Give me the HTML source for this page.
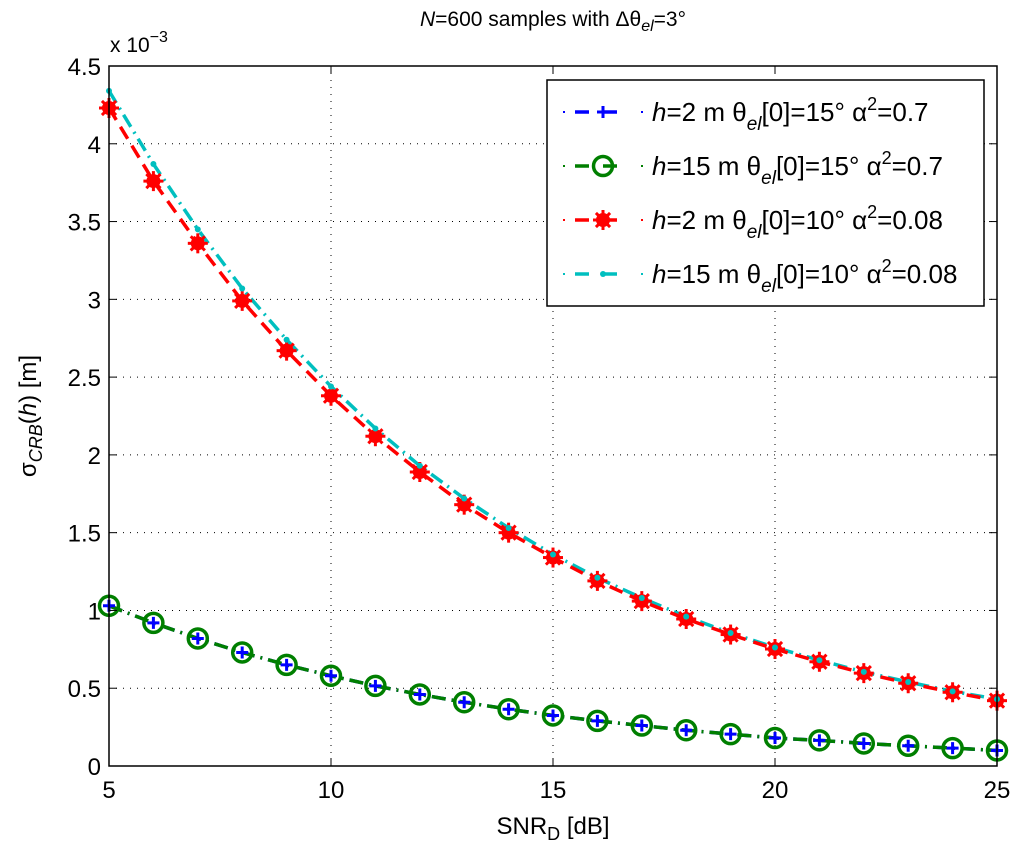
<!DOCTYPE html>
<html><head><meta charset="utf-8"><style>
body{margin:0;background:#fff}
svg text{font-family:"Liberation Sans",sans-serif;fill:#000}
</style></head><body>
<svg id="chart" width="1024" height="858" xmlns="http://www.w3.org/2000/svg">
<text x="553" y="26" font-size="21" text-anchor="middle"><tspan font-style="italic">N</tspan>=600 samples with Δθ<tspan font-style="italic" font-size="16" dy="5">el</tspan><tspan dy="-5">=3°</tspan></text>
<text x="110" y="52" font-size="21">x 10<tspan font-size="16" dy="-10">−3</tspan></text>
<text transform="translate(36,416) rotate(-90)" font-size="24" text-anchor="middle">σ<tspan font-style="italic" font-size="18" dy="6">CRB</tspan><tspan dy="-6">(</tspan><tspan font-style="italic">h</tspan>) [m]</text>
<text x="553" y="834" font-size="24" text-anchor="middle">SNR<tspan font-size="18" dy="6">D</tspan><tspan dy="-6"> [dB]</tspan></text>
<g id="grid"></g><g id="lines"></g><g id="marks"></g><g id="axes"></g><g id="legend"></g>
</svg>
<script>
const snr=[5,6,7,8,9,10,11,12,13,14,15,16,17,18,19,20,21,22,23,24,25];
const blueVals=[1.03,0.92,0.82,0.73,0.65,0.58,0.515,0.46,0.41,0.365,0.325,0.29,0.26,0.23,0.205,0.18,0.165,0.145,0.13,0.115,0.10];
const greenVals=[1.03,0.92,0.82,0.73,0.65,0.58,0.515,0.46,0.41,0.365,0.325,0.29,0.26,0.23,0.205,0.18,0.165,0.145,0.13,0.115,0.10];
const redVals=[4.23,3.76,3.36,2.99,2.67,2.38,2.12,1.89,1.68,1.50,1.34,1.19,1.06,0.945,0.845,0.752,0.67,0.597,0.532,0.474,0.42];
const cyanVals=[4.34,3.87,3.45,3.07,2.74,2.44,2.17,1.93,1.72,1.53,1.36,1.21,1.08,0.96,0.855,0.762,0.68,0.605,0.54,0.48,0.43];
const xTicks=[5,10,15,20,25];
const yTicks=[0,0.5,1,1.5,2,2.5,3,3.5,4,4.5];
const yTickLabels=["0","0.5","1","1.5","2","2.5","3","3.5","4","4.5"];

const L=109,R=997,T=66,B=766;
const xs=v=>L+(v-5)/20*(R-L);
const ys=v=>B-v/4.5*(B-T);
const NS="http://www.w3.org/2000/svg";
function mk(tag,parent,attrs){const e=document.createElementNS(NS,tag);for(const k in attrs)e.setAttribute(k,attrs[k]);parent.appendChild(e);return e;}
const grid=document.getElementById('grid'),axes=document.getElementById('axes'),linesG=document.getElementById('lines'),marksG=document.getElementById('marks'),leg=document.getElementById('legend');
xTicks.forEach((t,i)=>{
  const x=xs(t);
  if(i>0&&i<xTicks.length-1){const g=mk('line',grid,{x1:x,x2:x,y1:T,y2:B,stroke:'#000','stroke-width':1,'stroke-dasharray':'1 6'});
  
  }
  mk('line',axes,{x1:x,x2:x,y1:B,y2:B-8,stroke:'#000'});mk('line',axes,{x1:x,x2:x,y1:T,y2:T+8,stroke:'#000'});
  const tx=mk('text',axes,{x:x,y:B+32,'font-size':24,'text-anchor':'middle'});tx.textContent=t;
  
  
});
yTicks.forEach((t,i)=>{
  const y=ys(t);
  if(i>0&&i<yTicks.length-1){const g=mk('line',grid,{x1:L,x2:R,y1:y,y2:y,stroke:'#000','stroke-width':1,'stroke-dasharray':'1 6'});
  
  }
  mk('line',axes,{x1:L,x2:L+8,y1:y,y2:y,stroke:'#000'});mk('line',axes,{x1:R,x2:R-8,y1:y,y2:y,stroke:'#000'});
  const tx=mk('text',axes,{x:L-8,y:y+9,'font-size':24,'text-anchor':'end'});tx.textContent=yTickLabels[i];
  
  
});
const fr=mk('rect',axes,{x:L,y:T,width:R-L,height:B-T,fill:'none',stroke:'#000','stroke-width':1.5});



function marker(g,type,x,y){
  if(type==='plus'){mk('path',g,{d:`M${x-6} ${y}H${x+6}M${x} ${y-6}V${y+6}`,stroke:'#0000ff','stroke-width':3});}
  else if(type==='circle'){mk('circle',g,{cx:x,cy:y,r:9.5,fill:'none',stroke:'#007f00','stroke-width':3.5});}
  else if(type==='star'){mk('circle',g,{cx:x,cy:y,r:7,fill:'#ff0000'});
    for(let a=0;a<8;a++){const an=a*Math.PI/4;mk('line',g,{x1:x,y1:y,x2:x+10*Math.cos(an),y2:y+10*Math.sin(an),stroke:'#ff0000','stroke-width':3});}}
  else if(type==='dot'){mk('circle',g,{cx:x,cy:y,r:3,fill:'#00bfbf'});}
}
const series=[
 {name:'series-h2-a07',vals:blueVals,color:'#0000ff',mk:'plus',dash:'14 6 2 6',label:['2','15','0.7']},
 {name:'series-h15-a07',vals:greenVals,color:'#007f00',mk:'circle',dash:'14 6 2 6',label:['15','15','0.7']},
 {name:'series-h15-a008',vals:cyanVals,color:'#00bfbf',mk:'dot',dash:'14 6 2 6',label:['15','10','0.08']},
 {name:'series-h2-a008',vals:redVals,color:'#ff0000',mk:'star',dash:'14 8',label:['2','10','0.08']}
];
series.forEach(s=>{
  const g=mk('g',linesG,{});
  
  
  const pts=snr.map((v,i)=>xs(v)+','+ys(s.vals[i])).join(' ');
  mk('polyline',g,{points:pts,fill:'none',stroke:s.color,'stroke-width':3.5,'stroke-dasharray':s.dash});
});
[series[1],series[0],series[3],series[2]].forEach(s=>{
  const g=mk('g',marksG,{});
  
  
  snr.forEach((v,i)=>marker(g,s.mk,xs(v),ys(s.vals[i])));
});
// legend
const lb=mk('rect',leg,{x:547,y:80,width:437,height:226,fill:'#fff',stroke:'#000','stroke-width':1.5});


const legOrder=[series[0],series[1],series[3],series[2]];
const rowY=[112,166,220,274];
legOrder.forEach((s,i)=>{
  const y=rowY[i];
  const g=mk('g',leg,{});
  
  
  mk('line',g,{x1:563,x2:565,y1:y,y2:y,stroke:s.color,'stroke-width':2});
  mk('line',g,{x1:641,x2:643,y1:y,y2:y,stroke:s.color,'stroke-width':2});
  mk('line',g,{x1:575,x2:631,y1:y,y2:y,stroke:s.color,'stroke-width':3.5,'stroke-dasharray':'14 14'});
  marker(g,s.mk,603,y);
  const t=mk('text',g,{x:652,y:y+9,'font-size':26});
  t.innerHTML=`<tspan font-style="italic">h</tspan>=${s.label[0]} m θ<tspan font-style="italic" font-size="19" dy="9">el</tspan><tspan dy="-9">[0]=${s.label[1]}° α</tspan><tspan font-size="18" dy="-11">2</tspan><tspan dy="11">=${s.label[2]}</tspan>`;
});
</script>
</body></html>
